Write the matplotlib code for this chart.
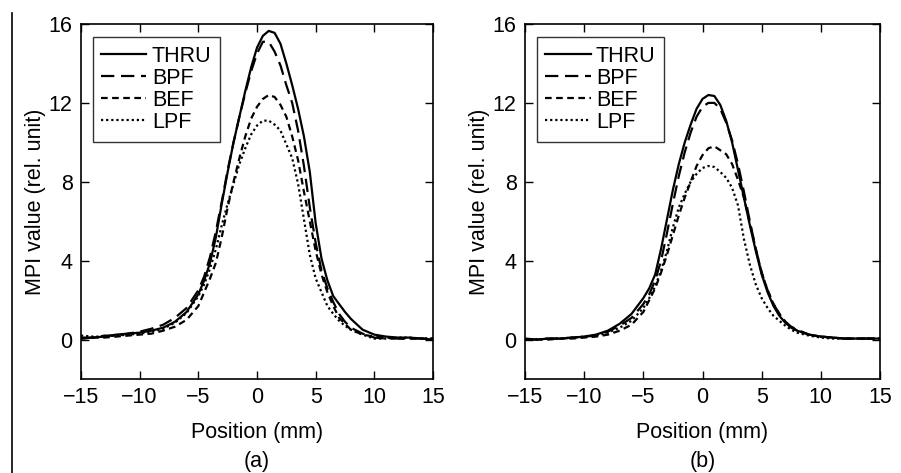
import matplotlib
matplotlib.use("Agg")
import matplotlib.pyplot as plt
from matplotlib.lines import Line2D

plt.rcParams['font.family'] = ['Liberation Sans', 'DejaVu Sans']

# Position grid (mm)
position = [-15, -14, -13, -12, -11, -10, -9, -8, -7, -6, -5,
            -4.5, -4, -3.5, -3, -2.5, -2, -1.5, -1, -0.5, 0, 0.5, 1, 1.5, 2, 2.5,
            3, 3.5, 4, 4.5, 5, 5.5, 6, 6.5, 7, 7.5,
            8, 9, 10, 11, 12, 13, 14, 15]

# Panel (a)
a_thru = [0.05, 0.1, 0.15, 0.25, 0.3, 0.35, 0.45, 0.6, 0.9, 1.4, 2.3,
          3.0, 3.9, 5.2, 6.9, 8.5, 10.0, 11.3, 12.6, 13.8, 14.8, 15.4, 15.65, 15.55, 15.0, 14.0,
          12.9, 11.7, 10.3, 8.5, 5.9, 4.1, 3.0, 2.2, 1.8, 1.4,
          1.05, 0.5, 0.25, 0.15, 0.1, 0.1, 0.05, 0.0]
a_bpf = [0.1, 0.1, 0.2, 0.2, 0.3, 0.4, 0.55, 0.75, 1.1, 1.6, 2.5,
         3.2, 4.2, 5.5, 7.0, 8.6, 10.0, 11.3, 12.5, 13.6, 14.5, 15.1, 15.1, 14.6, 13.9, 12.9,
         12.0, 10.6, 8.8, 6.7, 4.9, 3.5, 2.6, 1.9, 1.3, 0.9,
         0.6, 0.3, 0.1, 0.05, 0.05, 0.05, 0.05, 0.05]
a_bef = [0.05, 0.1, 0.1, 0.15, 0.2, 0.25, 0.3, 0.45, 0.65, 1.0, 1.7,
         2.4, 3.1, 3.9, 5.2, 6.7, 8.0, 9.2, 10.3, 11.2, 11.8, 12.2, 12.4, 12.3, 11.9, 11.3,
         10.3, 9.1, 7.5, 6.0, 4.5, 3.3, 2.4, 1.7, 1.1, 0.8,
         0.5, 0.25, 0.15, 0.1, 0.05, 0.05, 0.05, 0.05]
a_lpf = [0.2, 0.15, 0.15, 0.2, 0.25, 0.3, 0.4, 0.55, 0.85, 1.35, 2.2,
         2.8, 3.6, 4.6, 5.8, 6.9, 7.9, 8.9, 9.7, 10.4, 10.85, 11.1, 11.1, 10.9, 10.6, 9.9,
         9.2, 7.9, 6.1, 4.3, 3.1, 2.4, 1.7, 1.3, 0.95, 0.7,
         0.5, 0.25, 0.05, 0.05, 0.1, 0.1, 0.05, 0.05]

# Panel (b)
b_thru = [0.0, 0.0, 0.05, 0.05, 0.1, 0.15, 0.25, 0.45, 0.8, 1.3, 2.1,
          2.6, 3.3, 4.6, 6.1, 7.6, 8.9, 10.0, 10.9, 11.7, 12.2, 12.4, 12.35, 11.9, 11.1, 10.0,
          8.6, 7.2, 5.8, 4.5, 3.3, 2.4, 1.7, 1.2, 0.85, 0.6,
          0.45, 0.25, 0.15, 0.1, 0.05, 0.05, 0.05, 0.05]
b_bpf = [0.05, 0.0, 0.05, 0.05, 0.1, 0.15, 0.2, 0.4, 0.7, 1.1, 1.8,
         2.3, 3.0, 4.0, 5.4, 6.9, 8.3, 9.5, 10.5, 11.3, 11.8, 12.0, 12.0, 11.7, 11.0, 10.1,
         8.9, 7.5, 6.0, 4.6, 3.4, 2.5, 1.8, 1.3, 0.9, 0.65,
         0.5, 0.25, 0.15, 0.1, 0.05, 0.05, 0.05, 0.05]
b_bef = [0.0, 0.0, 0.0, 0.05, 0.05, 0.1, 0.15, 0.25, 0.45, 0.75, 1.4,
         2.0, 2.6, 3.4, 4.3, 5.3, 6.3, 7.2, 8.0, 8.8, 9.35, 9.7, 9.8, 9.6, 9.4, 8.9,
         8.1, 7.2, 5.9, 4.6, 3.4, 2.5, 1.8, 1.3, 0.9, 0.65,
         0.45, 0.25, 0.15, 0.1, 0.05, 0.05, 0.05, 0.05]
b_lpf = [0.0, 0.0, 0.05, 0.05, 0.1, 0.15, 0.2, 0.35, 0.6, 0.95, 1.6,
         2.1, 2.7, 3.5, 4.5, 5.7, 6.7, 7.4, 8.0, 8.4, 8.7, 8.8, 8.75, 8.5, 8.2, 7.7,
         6.8, 5.1, 3.8, 2.8, 2.1, 1.6, 1.2, 0.95, 0.7, 0.5,
         0.35, 0.2, 0.1, 0.05, 0.05, 0.05, 0.05, 0.05]

series_labels = ['THRU', 'BPF', 'BEF', 'LPF']
panel_letters = ['(a)', '(b)']
x_ticks = [-15, -10, -5, 0, 5, 10, 15]
y_ticks = [0, 4, 8, 12, 16]

styles = ['-', (0, (6, 3)), (0, (3, 2)), (0, (1, 1.3))]
FS = 15.5

fig = plt.figure(figsize=(9.01, 4.73), dpi=100)
W, H = 901, 473
axes_px = [(81, 24, 433, 379), (525, 24, 880, 379)]
data = [[a_thru, a_bpf, a_bef, a_lpf], [b_thru, b_bpf, b_bef, b_lpf]]

for (x0, y0, x1, y1), curves, letter in zip(axes_px, data, panel_letters):
    ax = fig.add_axes([x0 / W, 1 - y1 / H, (x1 - x0) / W, (y1 - y0) / H])
    for vals, ls, lab in zip(curves, styles, series_labels):
        ax.plot(position, vals, color='black', linestyle=ls, linewidth=1.6, label=lab)
    ax.set_xlim(-15, 15)
    ax.set_ylim(-2, 16)
    ax.set_xticks(x_ticks)
    ax.set_yticks(y_ticks)
    ax.set_xticklabels(['\u2212' + str(abs(t)) if t < 0 else str(t) for t in x_ticks])
    ax.tick_params(direction='in', length=6, width=1, top=True, right=True,
                   labelsize=FS, pad=6, colors='black')
    for sp in ax.spines.values():
        sp.set_linewidth(1.2)
    ax.set_ylabel('MPI value (rel. unit)', fontsize=FS, labelpad=2)
    xc = (x0 + x1) / 2 / W
    fig.text(xc, 1 - 432 / H, 'Position (mm)', ha='center', va='center', fontsize=FS)
    fig.text(xc, 1 - 461 / H, letter, ha='center', va='center', fontsize=FS)
    leg = ax.legend(loc='upper left', bbox_to_anchor=(0.033, 0.963), frameon=True,
                    fancybox=False, edgecolor='black', fontsize=FS, handlelength=2.1,
                    handletextpad=0.25, labelspacing=0.05, borderpad=0.4, borderaxespad=0)
    leg.get_frame().set_linewidth(1.0)

fig.add_artist(Line2D([12 / W, 12 / W], [0, 1 - 13 / H], transform=fig.transFigure,
                      color='black', linewidth=1.2))

fig.savefig('out.png', dpi=100)
